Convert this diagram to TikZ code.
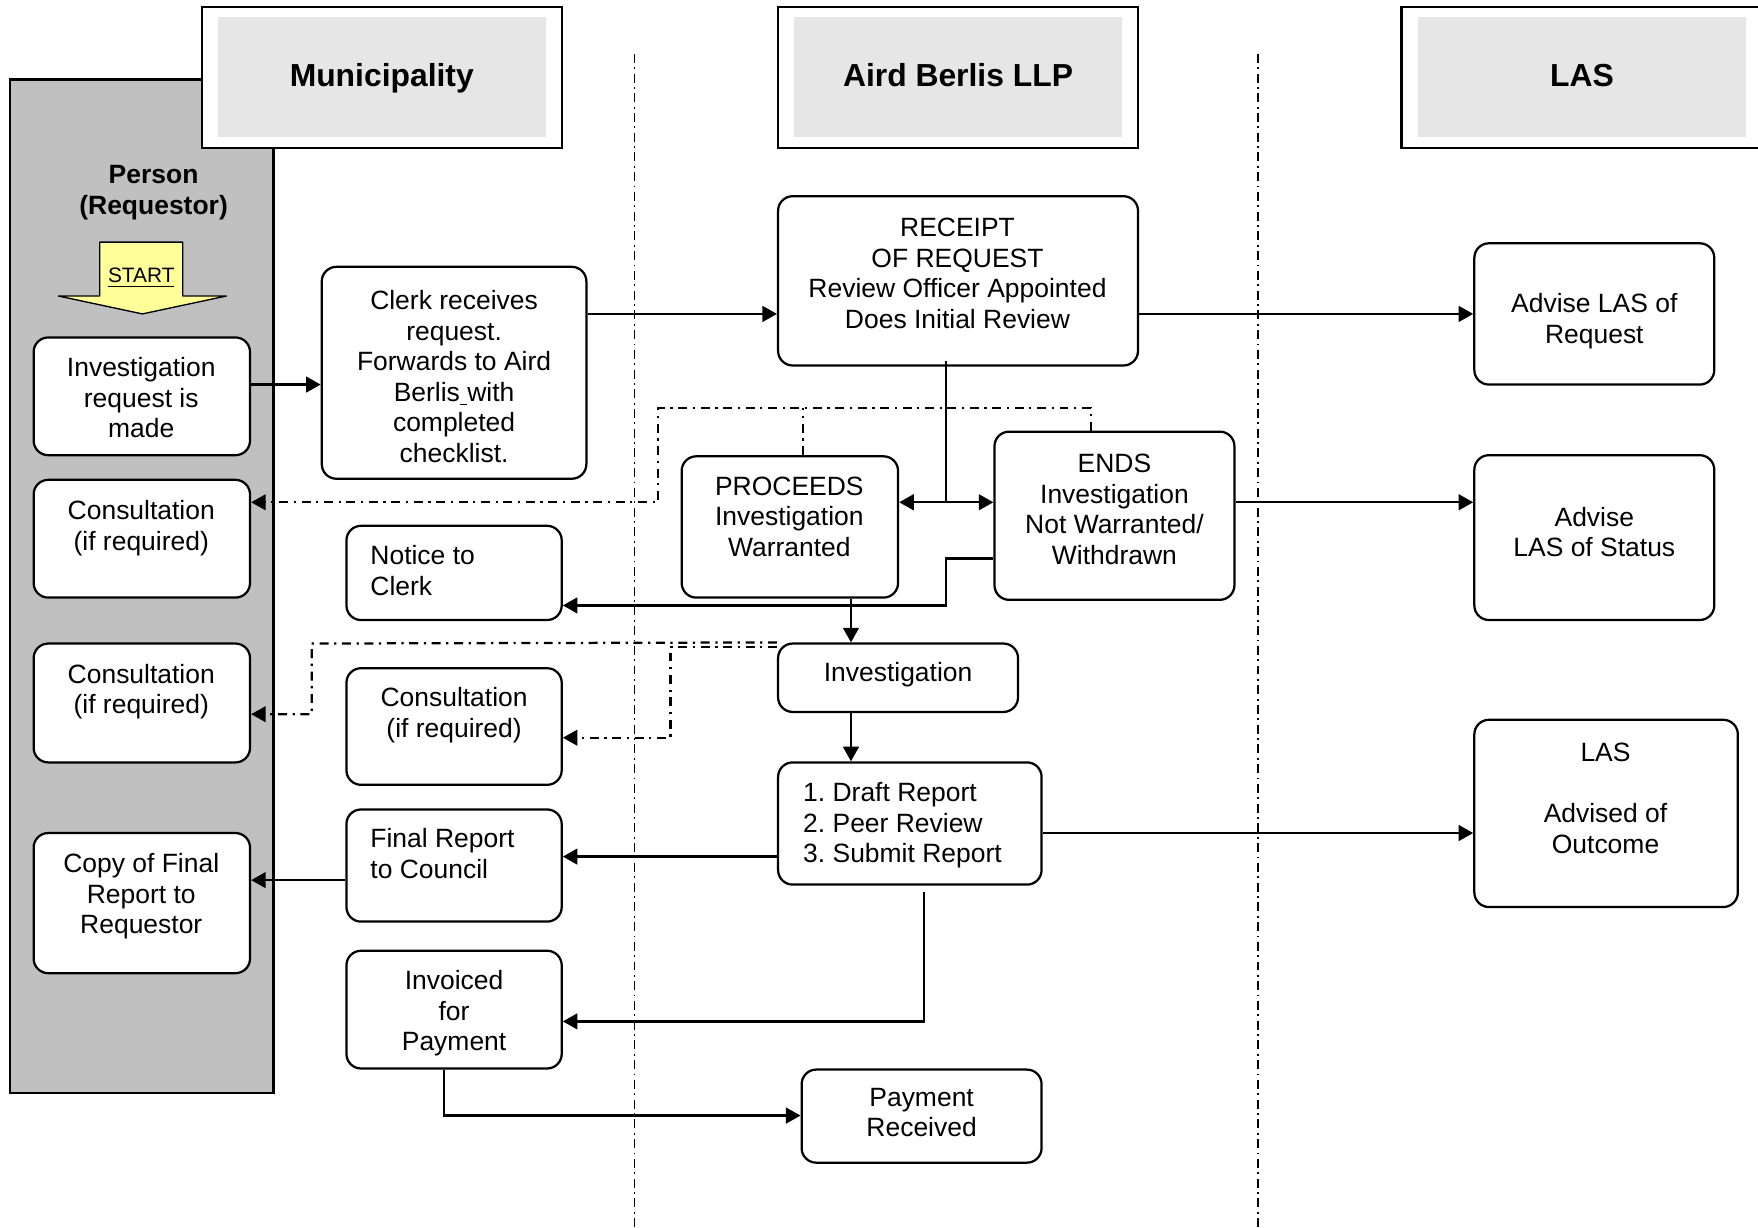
\documentclass[tikz,border=0pt]{standalone}
\usepackage{fontspec}
\setmainfont{Liberation Sans}
\usetikzlibrary{arrows.meta,calc}
\definecolor{panelgray}{RGB}{192,192,192}
\definecolor{headgray}{RGB}{230,230,230}
\definecolor{startyellow}{RGB}{255,255,153}
\frenchspacing
\tikzset{
  box/.style={draw=black, line width=1pt, rounded corners=6.5pt, fill=white, inner sep=0pt},
  txt/.style={font=\fontsize{11.8pt}{13.6pt}\selectfont, align=center, inner sep=0pt},
  ltxt/.style={font=\fontsize{11.8pt}{13.6pt}\selectfont, align=left, inner sep=0pt, anchor=west},
  headout/.style={draw=black, line width=1pt, fill=white, inner sep=0pt},
  headin/.style={fill=headgray, inner sep=0pt, font=\bfseries\fontsize{14.2pt}{17pt}\selectfont},
  headtxt/.style={inner sep=0pt, font=\bfseries\fontsize{14.2pt}{17pt}\selectfont, text height=0.75em, text depth=0.21em},
  conn/.style={line width=1.05pt, -{Triangle[length=6.5pt,width=7pt]}},
  plainline/.style={line width=1.05pt},
  dd/.style={line width=1pt, dash pattern=on 4pt off 2.5pt on 1pt off 2.5pt},
  ddarr/.style={dd, -{Triangle[length=6.5pt,width=7pt]}},
  lane/.style={line width=0.6pt, dash pattern=on 4pt off 2pt on 0.8pt off 2pt},
}
\begin{document}
\begin{tikzpicture}[x=0.5pt,y=-0.5pt]
\clip (0,0) rectangle (1568,1095);
\fill[white] (0,0) rectangle (1568,1095);

% swim lane separators
\draw[lane] (566,48) -- (566,1095);
\draw[lane] (1122,48) -- (1122,1095);

% requestor panel
\draw[fill=panelgray, line width=1pt] (9,71) rectangle (244,975);

% headers
\node[headout, minimum width=160.5pt, minimum height=63pt] (munout) at (340.5,69) {};
\node[headin, minimum width=146.5pt, minimum height=53.5pt] (mun) at (340.5,68.5) {};
\node[headtxt] (mun-t) at (340.5,71.5) {Municipality};
\node[headout, minimum width=160.5pt, minimum height=63pt] (airdout) at (854.5,69) {};
\node[headin, minimum width=146.5pt, minimum height=53.5pt] (aird) at (854.5,68.5) {};
\node[headtxt] (aird-t) at (854.5,71.5) {Aird Berlis LLP};
\node[headout, minimum width=175pt, minimum height=63pt] (lasout) at (1425,69) {};
\node[headin, minimum width=146pt, minimum height=53.5pt] (las) at (1411,68.5) {};
\node[headtxt] (las-t) at (1411,71.5) {LAS};

% person label
\node[font=\bfseries\fontsize{11.8pt}{14pt}\selectfont, align=center, inner sep=0pt] (person) at (137,172) {Person\\(Requestor)};

% start arrow
\draw[fill=startyellow, line width=0.6pt, line join=round] (89,216) -- (163,216) -- (163,264) -- (202,264) -- (127,280) -- (52,264) -- (89,264) -- cycle;
\node[font=\fontsize{9.3pt}{11pt}\selectfont, inner sep=0pt] (start) at (126,248) {\underline{START}};

% boxes
\node[box, minimum width=96.5pt, minimum height=52.5pt] (invreq) at (126.5,353.5) {};
\node[txt] (invreq-t) at (126,355) {Investigation\\request is\\made};
\node[box, minimum width=96.5pt, minimum height=52.5pt] (cons1) at (126.5,480.5) {};
\node[txt] (cons1-t) at (126,471) {Consultation\\(if required)};
\node[box, minimum width=96.5pt, minimum height=53pt] (cons2) at (126.5,627) {};
\node[txt] (cons2-t) at (126,617) {Consultation\\(if required)};
\node[box, minimum width=96.5pt, minimum height=62.5pt] (copy) at (126.5,805.5) {};
\node[txt] (copy-t) at (126,799.5) {Copy of Final\\Report to\\Requestor};

\node[box, minimum width=118pt, minimum height=94.5pt] (clerk) at (405,332.5) {};
\node[txt] (clerk-t) at (405,336) {Clerk receives\\request.\\Forwards to Aird\\Berlis\underline{\ }with\\completed\\checklist.};
\node[box, minimum width=96pt, minimum height=42pt] (notice) at (405,511) {};
\node[ltxt] (notice-t) at (330,509) {Notice to\\Clerk};
\node[box, minimum width=96pt, minimum height=52pt] (cons3) at (405,648) {};
\node[txt] (cons3-t) at (405,638) {Consultation\\(if required)};
\node[box, minimum width=96pt, minimum height=50pt] (final) at (405,772) {};
\node[ltxt] (final-t) at (330,761.5) {Final Report\\to Council};
\node[box, minimum width=96pt, minimum height=52.5pt] (invoiced) at (405,900.5) {};
\node[txt] (invoiced-t) at (405,904) {Invoiced\\for\\Payment};

\node[box, minimum width=160.5pt, minimum height=75.5pt] (receipt) at (854.5,250.5) {};
\node[txt] (receipt-t) at (854,244) {RECEIPT\\OF REQUEST\\Review Officer Appointed\\Does Initial Review};
\node[box, minimum width=96.5pt, minimum height=63pt] (proceeds) at (704.5,470) {};
\node[txt] (proceeds-t) at (704,461) {PROCEEDS\\Investigation\\Warranted};
\node[box, minimum width=107pt, minimum height=75pt] (ends) at (994,460) {};
\node[txt] (ends-t) at (994,454.5) {ENDS\\Investigation\\Not Warranted/\\Withdrawn};
\node[box, minimum width=107pt, minimum height=30.5pt] (invest) at (801,604.5) {};
\node[txt] (invest-t) at (801,602) {Investigation};
\node[box, minimum width=117.5pt, minimum height=54.5pt] (draft) at (811.5,734.5) {};
\node[ltxt] (draft-t) at (716,736) {1. Draft Report\\2. Peer Review\\3. Submit Report};
\node[box, minimum width=107pt, minimum height=41.5pt] (payment) at (822,995.5) {};
\node[txt] (payment-t) at (822,992.5) {Payment\\Received};

\node[box, minimum width=107pt, minimum height=63pt] (advreq) at (1422,280) {};
\node[txt] (advreq-t) at (1422,286.5) {Advise LAS of\\Request};
\node[box, minimum width=107pt, minimum height=73.5pt] (advstat) at (1422,479.5) {};
\node[txt] (advstat-t) at (1422,474.5) {Advise\\LAS of Status};
\node[box, minimum width=117.5pt, minimum height=83.5pt] (lasoutc) at (1432.5,725.5) {};
\node[txt] (lasoutc-t) at (1432,712) {LAS\\[13.6pt]Advised of\\Outcome};

% solid connectors
\draw[conn] (invreq.east |- 0,343) -- (clerk.west |- 0,343);
\draw[conn] (clerk.east |- 0,280) -- (receipt.west |- 0,280);
\draw[conn] (receipt.east |- 0,280) -- (advreq.west |- 0,280);
\draw[plainline] (844,322) -- (844,448);
\draw[line width=1.05pt, {Triangle[length=6.5pt,width=7pt]}-{Triangle[length=6.5pt,width=7pt]}] (proceeds.east |- 0,448) -- (ends.west |- 0,448);
\draw[conn] (ends.east |- 0,448) -- (advstat.west |- 0,448);
\draw[conn] (ends.west |- 0,498) -- (844,498) -- (844,540) -- (notice.east |- 0,540);
\draw[conn] (759,0 |- proceeds.south) -- (759,0 |- invest.north);
\draw[conn] (759,0 |- invest.south) -- (759,0 |- draft.north);
\draw[conn] (draft.west |- 0,764) -- (final.east |- 0,764);
\draw[conn] (final.west |- 0,785) -- (copy.east |- 0,785);
\draw[conn] (draft.east |- 0,743) -- (lasoutc.west |- 0,743);
\draw[conn] ($(824,0 |- draft.south)+(0,6)$) -- (824,911) -- (invoiced.east |- 0,911);
\draw[conn] (396,0 |- invoiced.south) -- (396,995) -- (payment.west |- 0,995);

% dash-dot connectors
\draw[ddarr] (973,0 |- ends.north) -- (973,364) -- (587,364) -- (587,448) -- (cons1.east |- 0,448);
\draw[dd] (716,0 |- proceeds.north) -- (716,364);
\draw[ddarr] (invest.north west) -- (278,574) -- (278,637) -- (cons2.east |- 0,637);
\draw[ddarr] (invest.west |- 0,577) -- (598,577) -- (598,658) -- (cons3.east |- 0,658);
\end{tikzpicture}
\end{document}
